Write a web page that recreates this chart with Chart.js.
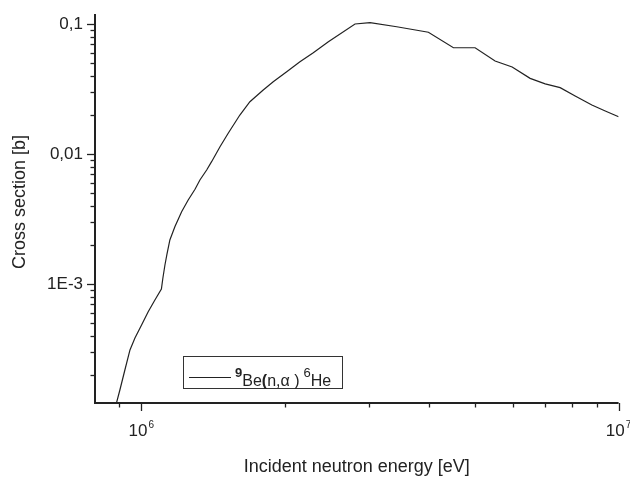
<!DOCTYPE html>
<html>
<head>
<meta charset="utf-8">
<script src="https://cdn.jsdelivr.net/npm/chart.js@4"></script>
<style>
html,body{margin:0;padding:0;background:#fff;}
#c{display:block;}
</style>
</head>
<body>
<canvas id="c" width="630" height="478"></canvas>
<script>
// ---- data ----
const energies = [8.87e5, 9.02e5, 9.24e5, 9.47e5, 9.70e5, 1.0015e6, 1.034e6, 1.068e6, 1.102e6, 1.110e6,
  1.121e6, 1.132e6, 1.148e6, 1.176e6, 1.215e6, 1.254e6, 1.296e6, 1.327e6, 1.371e6, 1.404e6,
  1.462e6, 1.521e6, 1.609e6, 1.689e6, 1.801e6, 1.890e6, 2.017e6, 2.150e6, 2.293e6, 2.466e6,
  2.804e6, 3.015e6, 3.429e6, 3.995e6, 4.508e6, 5.005e6, 5.511e6, 5.984e6, 6.526e6, 7.018e6,
  7.543e6, 8.110e6, 8.790e6, 9.377e6, 1.0e7];
const crossSection = [1.21e-4, 1.53e-4, 2.18e-4, 3.11e-4, 3.84e-4, 4.84e-4, 6.12e-4, 7.53e-4, 9.15e-4, 1.112e-3,
  1.40e-3, 1.70e-3, 2.18e-3, 2.76e-3, 3.60e-3, 4.43e-3, 5.35e-3, 6.31e-3, 7.53e-3, 8.73e-3,
  1.138e-2, 1.443e-2, 1.995e-2, 2.525e-2, 3.107e-2, 3.60e-2, 4.30e-2, 5.13e-2, 6.01e-2, 7.31e-2,
  0.100, 0.1023, 0.0953, 0.0864, 0.0657, 0.0657, 0.0519, 0.0467, 0.0382, 0.0346,
  0.0324, 0.0279, 0.0238, 0.0214, 0.01936];
const yTickValues = [0.1, 0.01, 0.001];
const yTickLabels = ['0,1', '0,01', '1E-3'];
const xTickValues = [1e6, 1e7];
const xTickBase = ['10', '10'];
const xTickExp = ['6', '7'];
const xTitle = 'Incident neutron energy [eV]';
const yTitle = 'Cross section [b]';
const seriesName = {pre: '9', a: 'Be', b: '(', c: 'n,\u03B1', d: ' )', sup2: '6', e: 'He'};

const FONT = '"Liberation Sans", Arial, Helvetica, sans-serif';
const INK = '#222';

const decorPlugin = {
  id: 'decor',
  afterDraw(chart) {
    const ctx = chart.ctx;
    const a = chart.chartArea;
    const xs = chart.scales.x, ys = chart.scales.y;
    ctx.save();
    ctx.strokeStyle = INK;
    ctx.fillStyle = INK;
    // axes
    ctx.lineWidth = 2;
    ctx.beginPath();
    ctx.moveTo(a.left, a.top);
    ctx.lineTo(a.left, a.bottom);
    ctx.lineTo(a.right, a.bottom);
    ctx.stroke();
    // y ticks
    ctx.lineWidth = 1.3;
    const yMin = ys.min, yMax = ys.max;
    for (let k = -5; k <= 0; k++) {
      for (let m = 1; m <= 9; m++) {
        const v = m * Math.pow(10, k);
        if (v < yMin || v > yMax) continue;
        const p = Math.round(ys.getPixelForValue(v)) + 0.5;
        const len = m === 1 ? 8 : 4.5;
        ctx.beginPath();
        ctx.moveTo(a.left - len, p);
        ctx.lineTo(a.left, p);
        ctx.stroke();
      }
    }
    // x ticks
    const xMin = xs.min, xMax = xs.max;
    for (let k = 5; k <= 7; k++) {
      for (let m = 1; m <= 9; m++) {
        const v = m * Math.pow(10, k);
        if (v <= xMin || v > xMax) continue;
        const p = Math.round(xs.getPixelForValue(v)) + 0.5;
        const len = m === 1 ? 8 : 4.5;
        ctx.beginPath();
        ctx.moveTo(p, a.bottom);
        ctx.lineTo(p, a.bottom + len);
        ctx.stroke();
      }
    }
    // y tick labels
    ctx.font = '17px ' + FONT;
    ctx.textAlign = 'right';
    ctx.textBaseline = 'middle';
    yTickValues.forEach((v, i) => {
      ctx.fillText(yTickLabels[i], a.left - 12, ys.getPixelForValue(v));
    });
    // x tick labels with superscript
    ctx.textBaseline = 'alphabetic';
    ctx.textAlign = 'left';
    xTickValues.forEach((v, i) => {
      const p = xs.getPixelForValue(v);
      ctx.font = '17px ' + FONT;
      const w1 = ctx.measureText(xTickBase[i]).width;
      ctx.font = '10px ' + FONT;
      const w2 = ctx.measureText(xTickExp[i]).width;
      const start = p - (w1 + w2 + 1) / 2;
      ctx.font = '17px ' + FONT;
      ctx.fillText(xTickBase[i], start, 436);
      ctx.font = '10px ' + FONT;
      ctx.fillText(xTickExp[i], start + w1 + 1, 428);
    });
    // axis titles
    ctx.font = '18px ' + FONT;
    ctx.textAlign = 'center';
    ctx.textBaseline = 'middle';
    ctx.fillText(xTitle, (a.left + a.right) / 2, 467);
    ctx.save();
    ctx.translate(20, 202);
    ctx.rotate(-Math.PI / 2);
    ctx.fillText(yTitle, 0, 0);
    ctx.restore();
    // legend box
    ctx.lineWidth = 1;
    ctx.strokeStyle = '#333';
    ctx.strokeRect(183.5, 356.5, 159, 32);
    ctx.strokeStyle = INK;
    ctx.lineWidth = 1.2;
    ctx.beginPath();
    ctx.moveTo(189, 377.5);
    ctx.lineTo(231, 377.5);
    ctx.stroke();
    ctx.textAlign = 'left';
    ctx.textBaseline = 'alphabetic';
    let x = 235;
    const draw = (t, font, y) => { ctx.font = font; ctx.fillText(t, x, y); x += ctx.measureText(t).width; };
    draw(seriesName.pre, 'bold 13px ' + FONT, 377);
    draw(seriesName.a, '16px ' + FONT, 386);
    draw(seriesName.b, 'bold 16px ' + FONT, 386);
    draw(seriesName.c, '16px ' + FONT, 386);
    draw(seriesName.d, '16px ' + FONT, 386);
    x += 4;
    draw(seriesName.sup2, '13px ' + FONT, 377);
    draw(seriesName.e, '16px ' + FONT, 386);
    ctx.restore();
  }
};

new Chart(document.getElementById('c'), {
  type: 'line',
  data: {
    datasets: [{
      data: energies.map((e, i) => ({x: e, y: crossSection[i]})),
      borderColor: INK,
      borderWidth: 1.2,
      pointRadius: 0,
      tension: 0,
      fill: false
    }]
  },
  options: {
    responsive: false,
    animation: false,
    devicePixelRatio: 1,
    layout: {padding: {left: 95, right: 11.4, top: 14, bottom: 75}},
    plugins: {legend: {display: false}, tooltip: {enabled: false}},
    scales: {
      x: {type: 'logarithmic', min: 8e5, max: 1e7, display: false},
      y: {type: 'logarithmic', min: 1.215e-4, max: 0.1194, display: false}
    }
  },
  plugins: [decorPlugin]
});
</script>
</body>
</html>
